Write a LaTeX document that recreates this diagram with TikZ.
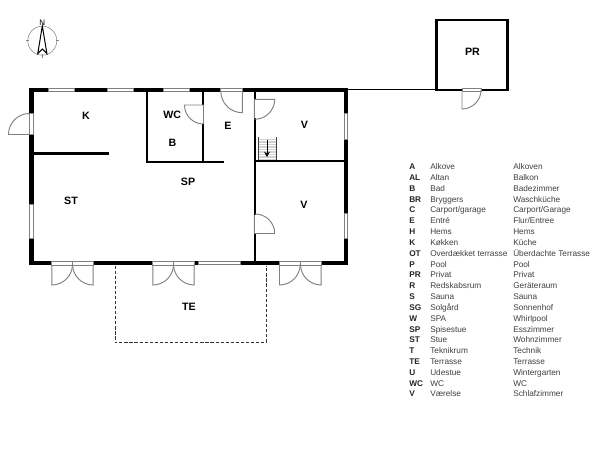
\documentclass[tikz,border=0pt]{standalone}
\usepackage{fontspec}
\setmainfont{Liberation Sans}
\usetikzlibrary{arrows.meta}
\definecolor{doorgray}{gray}{0.5}
\definecolor{legtext}{gray}{0.25}
\tikzset{
  x=0.75pt,y=-0.75pt,
  wall/.style={line width=3.4pt,line cap=rect,line join=miter,black},
  innerwall/.style={line width=1.9pt,black},
  opening/.style={fill=white,draw=doorgray,line width=0.6pt},
  leaf/.style={draw=doorgray,line width=0.7pt},
  roomlabel/.style={font=\fontsize{8}{9}\selectfont\bfseries,inner sep=0pt},
  legcode/.style={font=\fontsize{6.2}{8}\selectfont\bfseries,anchor=base west,inner sep=0pt,text=black!85},
  legname/.style={font=\fontsize{6.2}{8}\selectfont,anchor=base west,inner sep=0pt,text=legtext},
}
\begin{document}
\begin{tikzpicture}
\useasboundingbox[fill=white] (0,0) rectangle (600,450);
% compass
\draw[gray,line width=0.4pt] (42.3,40.7) circle[radius=14.5];
\draw[gray,line width=0.4pt] (25.5,40.7)--(29,40.7) (55.5,40.7)--(59,40.7) (42.3,54)--(42.3,57.5);
\draw[black,line width=0.75pt,line join=miter] (42.3,26)--(37.8,53.5)--(42.3,49)--(46.9,53.5)--cycle;
\node[font=\fontsize{6}{6}\selectfont,inner sep=0pt] (north) at (42.3,22.5) {N};
% internal walls
\draw[innerwall] (34,153.3)--(109,153.3);
\draw[innerwall] (147,90)--(147,162) (146,162)--(223.5,162);
\draw[innerwall] (203,90)--(203,162);
\draw[innerwall] (255,90)--(255,263);
\draw[innerwall] (255,161)--(345,161);
% outer walls
\draw[wall] (31.5,90) rectangle (346,263);
\draw[line width=2.1pt,black,line join=miter] (436.5,20) rectangle (507.7,90);
\draw[black,line width=0.7pt] (348,89.4)--(436,89.4);
% windows
\foreach \a/\b in {48.7/74,107/133,163/189}
  \draw[opening] (\a,88)rectangle(\b,91.5);
\foreach \a/\b in {113/139,213/238.5}
  \draw[opening] (344.5,\a)rectangle(347.8,\b);
\draw[opening] (29.5,204.5)rectangle(33.2,238);
\draw[opening] (198.3,261.2)rectangle(240.7,264.8);
% outer west door
\draw[opening] (29.5,113)rectangle(33.2,134.5);
\draw[leaf] (29.5,134.5)--(8.5,134.5) arc[start angle=180,end angle=270,radius=21];
% wc door
\fill[white] (201.5,105) rectangle (204.5,124);
\draw[leaf] (203.5,124)--(203.5,105)--(184.5,105) arc[start angle=180,end angle=90,radius=19];
% entry door
\draw[opening] (220.3,88)rectangle(242.3,91.8);
\draw[leaf] (242.3,91.8)--(242.3,112.7) arc[start angle=90,end angle=180,radius=21.5];
% V doors
\fill[white] (253.7,99.3) rectangle (256.3,118.3);
\draw[leaf] (254.3,118.3)--(254.3,99.3)--(274.7,99.3) arc[start angle=0,end angle=90,radius=20];
\fill[white] (253.7,215) rectangle (256.3,233.5);
\draw[leaf] (254.3,215)--(254.3,233.5)--(274.7,233.5) arc[start angle=0,end angle=-90,radius=19.5];
% stair
\fill[black!18] (259,139) rectangle (276.5,160);
\foreach \y in {140.5,143,...,160}
  \draw[white,line width=0.5pt] (259,\y)--(276.5,\y);
\draw[black!75,line width=0.7pt] (258.7,137.3)--(258.7,160) (276.7,137.3)--(276.7,160);
\draw[black,line width=0.5pt,-{Stealth[length=4pt,width=4.4pt]}] (267,139.5)--(267,157);
% double doors
\foreach \l/\m/\r in {51.3/72.5/93.7,152.3/173.5/194.7,279/300.3/321.7}{
  \draw[opening] (\l,261.2)rectangle(\r,265);
  \draw[leaf] (\l+.5,265)--(\l+.5,285) arc[start angle=90,end angle=0,radius=20.7];
  \draw[leaf] (\r-.5,265)--(\r-.5,285) arc[start angle=90,end angle=180,radius=20.7];
  \draw[leaf] (\m,261.2)--(\m,265);
}
% terrace
\draw[black!80,line width=0.6pt,dash pattern=on 2.4pt off 1.4pt] (115,265.5)--(115,342.3)--(266.3,342.3)--(266.3,265.5);
% PR door
\draw[opening] (462,88.6)rectangle(481,91.6);
\draw[leaf] (462,91.6)--(462,109) arc[start angle=90,end angle=0,radius=19]--(481,91.6);
% room labels
\node[roomlabel] (k) at (86,115.5) {K};
\node[roomlabel] (wc) at (172.3,114.5) {WC};
\node[roomlabel] (b) at (172.5,142.7) {B};
\node[roomlabel] (e) at (228,125.5) {E};
\node[roomlabel] (v1) at (304.5,125.2) {V};
\node[roomlabel] (v2) at (304,205) {V};
\node[roomlabel] (sp) at (188,181.5) {SP};
\node[roomlabel] (st) at (71,201) {ST};
\node[roomlabel] (te) at (189,306.7) {TE};
\node[roomlabel] (pr) at (472.5,51.5) {PR};
% legend
\foreach \c/\d/\g [count=\i from 0] in {
 A/Alkove/Alkoven, AL/Altan/Balkon, B/Bad/Badezimmer, BR/Bryggers/Waschküche,
 C/Carport\slash garage/Carport\slash Garage, E/Entré/Flur\slash Entree, H/Hems/Hems, K/Køkken/Küche,
 OT/Overdækket terrasse/Überdachte Terrasse, P/Pool/Pool, PR/Privat/Privat,
 R/Redskabsrum/Geräteraum, S/Sauna/Sauna, SG/Solgård/Sonnenhof, W/SPA/Whirlpool,
 SP/Spisestue/Esszimmer, ST/Stue/Wohnzimmer, T/Teknikrum/Technik, TE/Terrasse/Terrasse,
 U/Udestue/Wintergarten, WC/WC/WC, V/Værelse/Schlafzimmer}{
  \pgfmathsetmacro{\yy}{169.7+10.82*\i}
  \node[legcode] (c\i) at (409,\yy) {\c};
  \node[legname] (d\i) at (430,\yy) {\d};
  \node[legname] (g\i) at (513,\yy) {\g};
}
\end{tikzpicture}
\end{document}
